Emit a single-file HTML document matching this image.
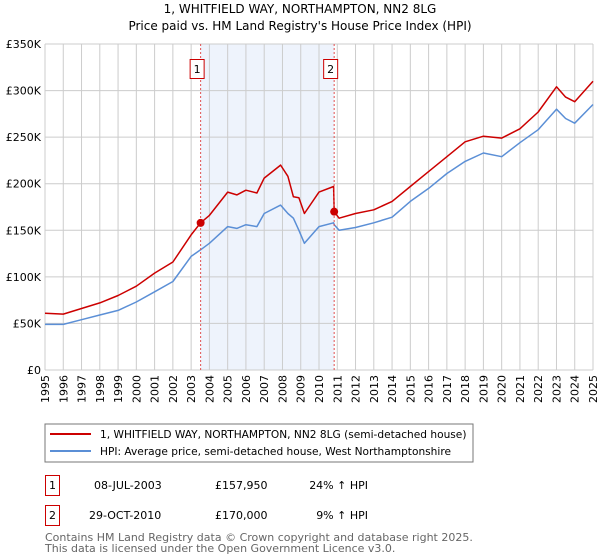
<!DOCTYPE html>
<html><head><meta charset="utf-8"><style>
body{margin:0;background:#fff;font-family:"DejaVu Sans","Liberation Sans",sans-serif;}
svg{display:block}
</style></head><body>
<svg width="600" height="560" xmlns="http://www.w3.org/2000/svg" font-family="DejaVu Sans, Liberation Sans, sans-serif">
<text x="300" y="13" text-anchor="middle" font-size="12" fill="#000">1, WHITFIELD WAY, NORTHAMPTON, NN2 8LG</text>
<text x="300" y="30" text-anchor="middle" font-size="12" fill="#000">Price paid vs. HM Land Registry's House Price Index (HPI)</text>
<g id="plot"></g>
<g>
<rect x="45" y="424" width="428" height="38" fill="#fff" stroke="#777"/>
<line x1="50" y1="434" x2="91" y2="434" stroke="#cc0000" stroke-width="2"/>
<text x="100" y="438" font-size="10.6">1, WHITFIELD WAY, NORTHAMPTON, NN2 8LG (semi-detached house)</text>
<line x1="50" y1="451" x2="91" y2="451" stroke="#5b8fd6" stroke-width="2"/>
<text x="100" y="455" font-size="10.6">HPI: Average price, semi-detached house, West Northamptonshire</text>
</g>
<g font-size="11">
<rect x="45.5" y="475.5" width="14" height="20" fill="#fff" stroke="#cc0000"/>
<text x="52.5" y="489" text-anchor="middle">1</text>
<text x="94" y="489">08-JUL-2003</text>
<text x="215" y="489">£157,950</text>
<text x="368" y="489" text-anchor="end">24% ↑ HPI</text>
<rect x="45.5" y="505.5" width="14" height="20" fill="#fff" stroke="#cc0000"/>
<text x="52.5" y="519" text-anchor="middle">2</text>
<text x="89" y="519">29-OCT-2010</text>
<text x="215" y="519">£170,000</text>
<text x="368" y="519" text-anchor="end">9% ↑ HPI</text>
</g>
<text x="45" y="541" font-size="11" fill="#666">Contains HM Land Registry data © Crown copyright and database right 2025.</text>
<text x="45" y="552" font-size="11" fill="#666">This data is licensed under the Open Government Licence v3.0.</text>
</svg>
<script>
const years=[1995,1996,1997,1998,1999,2000,2001,2002,2003,2003.52,2004,2005,2005.5,2006,2006.6,2007,2007.9,2008.3,2008.6,2008.9,2009.2,2010,2010.8,2010.83,2011.1,2012,2013,2014,2015,2016,2017,2018,2019,2020,2021,2022,2023,2023.5,2024,2025];
const hpiValues=[49,49,54,59,64,73,84,95,122,129,136,154,152,156,154,168,177,168,163,150,136,154,158,156,150,153,158,164,181,195,211,224,233,229,244,258,280,270,265,285];
const propValues=[61,60,66,72,80,90,104,116,145,158,166,191,188,193,190,206,220,208,186,185,168,191,197,170,163,168,172,181,197,213,229,245,251,249,259,277,304,293,288,310];
const saleYears=[2003.52,2010.83];
const salePrices=[157950,170000];
const yTicks=[0,50,100,150,200,250,300,350];
const xTicks=[1995,1996,1997,1998,1999,2000,2001,2002,2003,2004,2005,2006,2007,2008,2009,2010,2011,2012,2013,2014,2015,2016,2017,2018,2019,2020,2021,2022,2023,2024,2025];
const X0=45,X1=593,Y0=370,Y1=44;
const xs=y=>X0+(y-1995)/30*(X1-X0);
const ys=v=>Y0-v/350*(Y0-Y1);
const NS="http://www.w3.org/2000/svg";
const g=document.getElementById('plot');
function mk(t,a){const e=document.createElementNS(NS,t);for(const k in a)e.setAttribute(k,a[k]);g.appendChild(e);return e;}
let e=mk('rect',{x:xs(saleYears[0]),y:Y1,width:xs(saleYears[1])-xs(saleYears[0]),height:Y0-Y1,fill:'#eef3fc'});


xTicks.forEach(t=>{
 const l=mk('line',{x1:xs(t),x2:xs(t),y1:Y1,y2:Y0,stroke:'#cccccc','stroke-width':1});
 
 
 const tx=mk('text',{x:0,y:0,'font-size':11,'text-anchor':'end',transform:`translate(${xs(t)+4},${Y0+5}) rotate(-90)`});
 tx.textContent=t;
 
 
});
yTicks.forEach(t=>{
 const l=mk('line',{x1:X0,x2:X1,y1:ys(t),y2:ys(t),stroke:'#cccccc','stroke-width':1});
 
 
 const tx=mk('text',{x:X0-4,y:ys(t)+4,'font-size':11,'text-anchor':'end'});
 tx.textContent=t===0?'£0':'£'+t+'K';
 
 
});
function path(vals,col,name){
 const d=years.map((y,i)=>(i?'L':'M')+xs(y).toFixed(1)+','+ys(vals[i]).toFixed(1)).join('');
 const p=mk('path',{d:d,fill:'none',stroke:col,'stroke-width':1.5,'stroke-linejoin':'round'});
 
 
}
path(hpiValues,'#5b8fd6','hpi-line');
path(propValues,'#cc0000','property-line');
saleYears.forEach((s,i)=>{
 const l=mk('line',{x1:xs(s),x2:xs(s),y1:Y1,y2:Y0,stroke:'#e05050','stroke-dasharray':'2,2','stroke-width':1});
 
 
 const c=mk('circle',{cx:xs(s),cy:ys(salePrices[i]/1000),r:4,fill:'#cc0000'});
 
 
 const r=mk('rect',{x:xs(s)-10.5,y:59.5,width:14,height:19,fill:'#fff',stroke:'#cc0000'});
 
 
 const t=mk('text',{x:xs(s)-3.5,y:73,'font-size':11,'text-anchor':'middle'});
 t.textContent=i+1;
 
 
});
</script>
</body></html>
